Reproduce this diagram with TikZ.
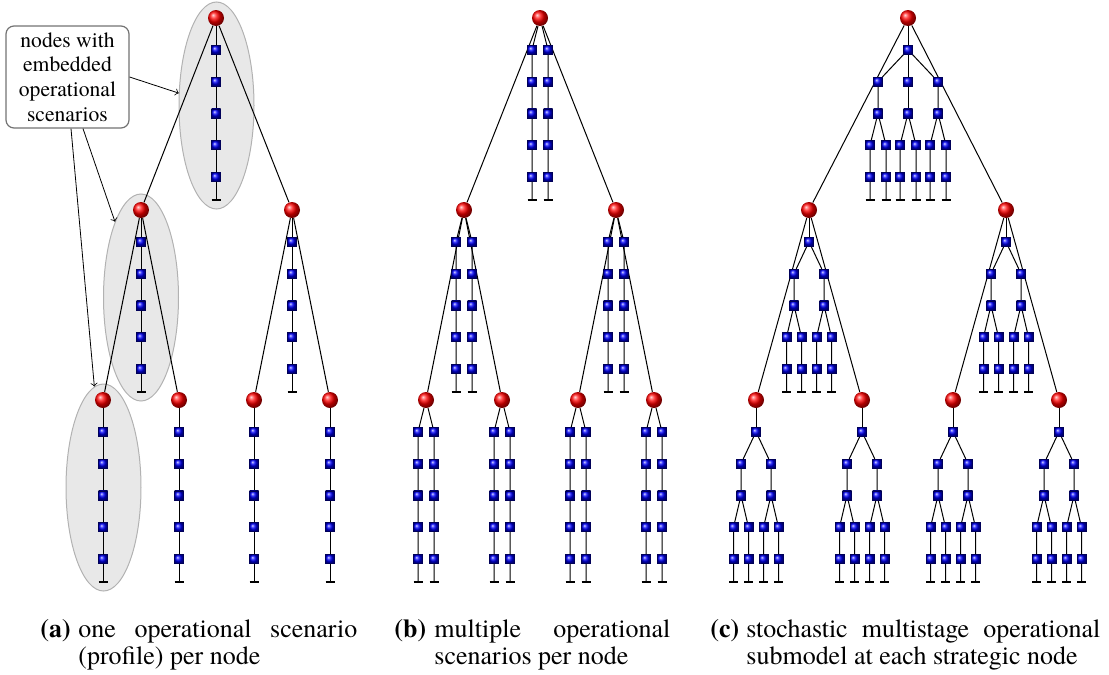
\documentclass[tikz,border=0pt]{standalone}
\usepackage{fontspec}
\setmainfont{TeX Gyre Termes}
\usetikzlibrary{shapes.geometric}
\pgfdeclarelayer{shade}
\pgfdeclarelayer{edges}
\pgfsetlayers{shade,edges,main}
\newcommand\capfont{\fontsize{13}{13.5}\selectfont\hyphenpenalty=10000\exhyphenpenalty=10000 }
\tikzset{
  ballnode/.style={circle, inner sep=0pt, minimum size=8pt, ball color=red, draw=none},
  sq/.style={rectangle, inner sep=0pt, minimum size=4.5pt, ball color=blue, draw=blue!35!black, line width=0.25pt},
  edge/.style={draw=black, line width=0.5pt},
  endbar/.style={draw=black, line width=0.8pt},
  scen/.style={ellipse, fill=black!9, draw=black!30, line width=0.5pt, minimum width=37.5pt, minimum height=103.5pt, inner sep=0pt},
  callbox/.style={draw=black!55, fill=white, rounded corners=4pt, line width=0.6pt, minimum width=61.5pt, minimum height=51pt, inner sep=0pt, align=center, font=\fontsize{10.8}{12.4}\selectfont},
  callarrow/.style={->, line width=0.4pt},
  caplabel/.style={anchor=base west, inner sep=0pt, font=\capfont\bfseries},
  captext/.style={anchor=base west, inner sep=0pt, align=justify, font=\capfont}
}
% vertical chain of five operational squares: ball, prefix, x, ball y
\newcommand\vchain[4]{%
  \foreach \k in {1,...,5}{\node[sq] (#2-\k) at (#3,#4+31.8*\k) {};}
  \coordinate (#2-e) at (#3,#4+182);
  \begin{pgfonlayer}{edges}
    \draw[edge] (#1) -- (#2-1) -- (#2-2) -- (#2-3) -- (#2-4) -- (#2-5) -- (#2-e);
    \draw[endbar] (#2-e) ++(-4.5,0) -- ++(9,0);
  \end{pgfonlayer}
}
% stochastic operational submodel: ball, x, ball y, branch list, pair half-gap
\newcommand\csub[5]{%
  \node[sq] (#1-0) at (#2,#3+31.8) {};
  \begin{pgfonlayer}{edges}\draw[edge] (#1) -- (#1-0);\end{pgfonlayer}
  \foreach \bb/\dx in {#4}{%
    \node[sq] (#1-\bb-1) at (#2+\dx,#3+63.6) {};
    \node[sq] (#1-\bb-2) at (#2+\dx,#3+95.4) {};
    \begin{pgfonlayer}{edges}\draw[edge] (#1-0) -- (#1-\bb-1) -- (#1-\bb-2);\end{pgfonlayer}
    \foreach \pp/\sg in {a/-1,b/1}{%
      \node[sq] (#1-\bb-\pp-1) at (#2+\dx+\sg*#5,#3+127.2) {};
      \node[sq] (#1-\bb-\pp-2) at (#2+\dx+\sg*#5,#3+159) {};
      \coordinate (#1-\bb-\pp-e) at (#2+\dx+\sg*#5,#3+182);
      \begin{pgfonlayer}{edges}
        \draw[edge] (#1-\bb-2) -- (#1-\bb-\pp-1) -- (#1-\bb-\pp-2) -- (#1-\bb-\pp-e);
        \draw[endbar] (#1-\bb-\pp-e) ++(-4.5,0) -- ++(9,0);
      \end{pgfonlayer}
    }
  }
}
\begin{document}
\begin{tikzpicture}[x=0.5pt,y=-0.5pt]
\useasboundingbox (0,0) rectangle (1109,675);

% ---------- (a) ----------
\begin{pgfonlayer}{shade}
  \node[scen] (E1) at (216.5,105.5) {};
  \node[scen] (E2) at (141,297.5) {};
  \node[scen] (E3) at (103.5,487.5) {};
\end{pgfonlayer}
\node[ballnode] (A) at (216,18) {};
\node[ballnode] (AL) at (141,210) {};
\node[ballnode] (AR) at (292,210) {};
\node[ballnode] (ALL) at (103,400) {};
\node[ballnode] (ALR) at (179,400) {};
\node[ballnode] (ARL) at (254,400) {};
\node[ballnode] (ARR) at (330,400) {};
\begin{pgfonlayer}{edges}
  \draw[edge] (A) -- (AL);  \draw[edge] (A) -- (AR);
  \draw[edge] (AL) -- (ALL); \draw[edge] (AL) -- (ALR);
  \draw[edge] (AR) -- (ARL); \draw[edge] (AR) -- (ARR);
\end{pgfonlayer}
\vchain{A}{Aq}{216}{18}
\vchain{AL}{ALq}{141}{210}
\vchain{AR}{ARq}{292}{210}
\vchain{ALL}{ALLq}{103}{400}
\vchain{ALR}{ALRq}{179}{400}
\vchain{ARL}{ARLq}{254}{400}
\vchain{ARR}{ARRq}{330}{400}

\node[callbox] (note) at (67.5,77) {nodes with\\embedded\\operational\\scenarios};
\draw[callarrow] (note.east) -- (E1);
\draw[callarrow] (note.south) ++(15.5,0) -- (E2);
\draw[callarrow] (note.south) ++(3.5,0) -- (E3);

% ---------- (b) ----------
\node[ballnode] (B) at (540,18) {};
\node[ballnode] (BL) at (464,210) {};
\node[ballnode] (BR) at (616,210) {};
\node[ballnode] (BLL) at (426,400) {};
\node[ballnode] (BLR) at (502,400) {};
\node[ballnode] (BRL) at (578,400) {};
\node[ballnode] (BRR) at (654,400) {};
\begin{pgfonlayer}{edges}
  \draw[edge] (B) -- (BL);  \draw[edge] (B) -- (BR);
  \draw[edge] (BL) -- (BLL); \draw[edge] (BL) -- (BLR);
  \draw[edge] (BR) -- (BRL); \draw[edge] (BR) -- (BRR);
\end{pgfonlayer}
\vchain{B}{Bx}{532}{18}       \vchain{B}{By}{548}{18}
\vchain{BL}{BLx}{456}{210}    \vchain{BL}{BLy}{472}{210}
\vchain{BR}{BRx}{608}{210}    \vchain{BR}{BRy}{624}{210}
\vchain{BLL}{BLLx}{418}{400}  \vchain{BLL}{BLLy}{434}{400}
\vchain{BLR}{BLRx}{494}{400}  \vchain{BLR}{BLRy}{510}{400}
\vchain{BRL}{BRLx}{570}{400}  \vchain{BRL}{BRLy}{586}{400}
\vchain{BRR}{BRRx}{646}{400}  \vchain{BRR}{BRRy}{662}{400}

% ---------- (c) ----------
\node[ballnode] (C) at (908,18) {};
\node[ballnode] (CL) at (809,210) {};
\node[ballnode] (CR) at (1006,210) {};
\node[ballnode] (CLL) at (756,400) {};
\node[ballnode] (CLR) at (862,400) {};
\node[ballnode] (CRL) at (953,400) {};
\node[ballnode] (CRR) at (1059,400) {};
\begin{pgfonlayer}{edges}
  \draw[edge] (C) -- (CL);  \draw[edge] (C) -- (CR);
  \draw[edge] (CL) -- (CLL); \draw[edge] (CL) -- (CLR);
  \draw[edge] (CR) -- (CRL); \draw[edge] (CR) -- (CRR);
\end{pgfonlayer}
\csub{C}{908}{18}{L/-30,M/0,R/30}{8}
\csub{CL}{809}{210}{L/-15,R/15}{7.5}
\csub{CR}{1006}{210}{L/-15,R/15}{7.5}
\csub{CLL}{756}{400}{L/-15,R/15}{7.5}
\csub{CLR}{862}{400}{L/-15,R/15}{7.5}
\csub{CRL}{953}{400}{L/-15,R/15}{7.5}
\csub{CRR}{1059}{400}{L/-15,R/15}{7.5}

% ---------- captions ----------
\node[caplabel] (la) at (40,637.5) {(a)};
\node[captext, text width=139.5pt] (ta) at (78,637.5) {one operational scenario (profile) per node};
\node[caplabel] (lb) at (394,637.5) {(b)};
\node[captext, text width=118pt] (tb) at (434,637.5) {multiple operational scenarios per node};
\node[caplabel] (lc) at (710,637.5) {(c)};
\node[captext, text width=177pt] (tc) at (746,637.5) {stochastic multistage operational submodel at each strategic node};
\end{tikzpicture}
\end{document}
